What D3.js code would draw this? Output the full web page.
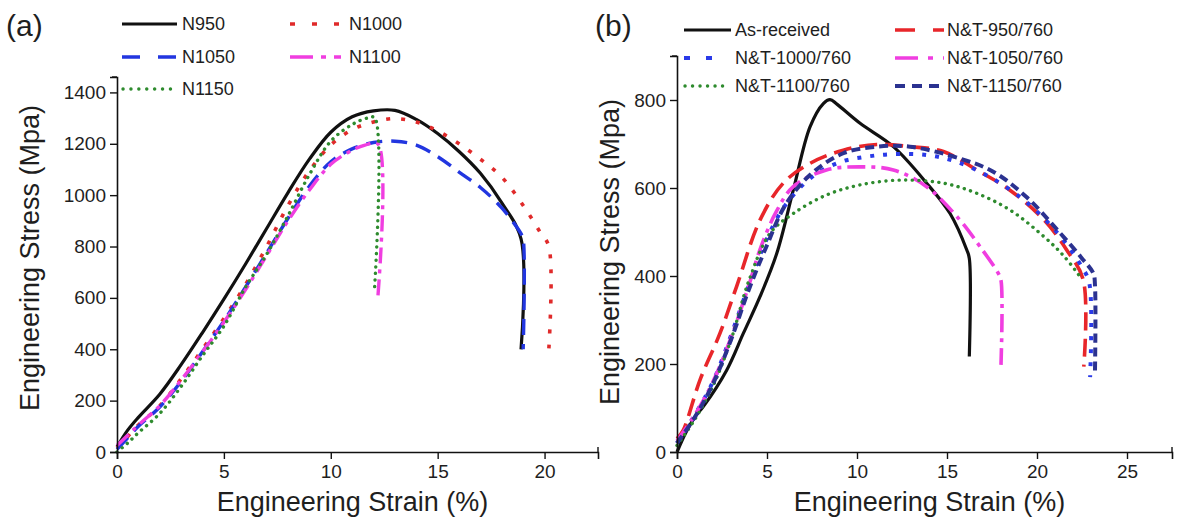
<!DOCTYPE html>
<html>
<head>
<meta charset="utf-8">
<script src="https://cdn.jsdelivr.net/npm/d3@7/dist/d3.min.js"></script>
<style>
  html, body { margin: 0; padding: 0; background: #ffffff; }
  svg { display: block; }
  text { font-family: "Liberation Sans", Arial, sans-serif; fill: #1e1e1e; }
</style>
</head>
<body>
<svg id="chart" width="1181" height="520"></svg>
<script>
// ---------------- Data ----------------
// Panel (a): strain (%) , stress (MPa)
const panelALabel = "(a)";
const strainTicksA = [0, 5, 10, 15, 20];
const stressTicksA = [0, 200, 400, 600, 800, 1000, 1200, 1400];
const namesA = ["N950", "N1000", "N1050", "N1100", "N1150"];

const n950 = [[0,20],[0.5,85],[1,135],[2,225],[3,340],[4,465],[5,595],[6,730],[7,870],[8,1010],[9,1140],[10,1245],[11,1305],[12,1328],[13,1330],[14,1295],[15,1240],[16,1170],[17,1085],[18,970],[18.9,830],[18.9,400]];
const n1000 = [[0,15],[0.5,60],[1,105],[2,180],[3,285],[4,400],[5,520],[6,650],[7,800],[8,960],[9,1095],[10,1195],[11,1255],[12,1285],[13,1298],[14,1285],[15,1250],[16,1200],[17,1140],[18,1070],[19,960],[19.8,855],[20.2,800],[20.2,400]];
const n1050 = [[0,10],[0.5,55],[1,100],[2,175],[3,275],[4,390],[5,510],[6,640],[7,775],[8,910],[9,1035],[10,1130],[11,1180],[12,1205],[13,1210],[14,1195],[15,1150],[16,1090],[17,1030],[18,950],[18.9,850],[19.0,830],[19.0,400]];
const n1100 = [[0,25],[0.5,65],[1,105],[2,180],[3,280],[4,390],[5,505],[6,630],[7,765],[8,900],[9,1020],[10,1120],[11,1175],[11.6,1195],[12.2,1200],[12.2,600]];
const n1150 = [[0,0],[0.5,35],[1,75],[2,150],[3,255],[4,375],[5,490],[6,640],[7,770],[8,920],[9,1080],[10,1210],[11,1275],[11.7,1300],[12.05,1302],[12.05,640]];

// Panel (b)
const panelBLabel = "(b)";
const strainTicksB = [0, 5, 10, 15, 20, 25];
const stressTicksB = [0, 200, 400, 600, 800];
const namesB = ["As-received", "N&T-950/760", "N&T-1000/760", "N&T-1050/760", "N&T-1100/760", "N&T-1150/760"];

const asReceived = [[0,0],[0.5,45],[1,80],[1.46,103],[2.76,186],[3.69,270],[4.61,353],[5.54,451],[6.46,595],[7.39,739],[8.13,792],[8.5,801],[8.9,790],[10.17,747],[12.02,694],[13.87,611],[15.17,542],[16.1,459],[16.24,440],[16.24,217]];
const nt950 = [[0,30],[0.35,50],[1.28,164],[2.39,270],[3.31,376],[4.61,527],[5.9,611],[7.39,656],[9.24,686],[11.1,699],[12.94,694],[14.8,683],[16.65,641],[18.5,595],[20.4,527],[21.65,459],[22.57,391],[22.6,194]];
const nt1000 = [[0,20],[1,85],[2,160],[3,265],[4,380],[5,485],[6,560],[7.5,625],[9,658],[10.5,671],[12,677],[13.87,675],[15.5,660],[17.5,622],[19.5,565],[21.3,490],[22.5,420],[22.9,385],[22.95,170]];
const nt1050 = [[0,25],[1,85],[2,160],[3,260],[4,380],[4.61,460],[5.5,545],[6.46,603],[8.3,641],[10.17,648],[12.02,641],[13.87,603],[15.72,527],[16.83,467],[17.85,406],[18.0,390],[18.0,198]];
const nt1100 = [[0,15],[1,75],[2,150],[3,255],[4,390],[5.17,497],[6.46,542],[8.3,584],[10.17,607],[12.4,618],[14.8,611],[16.65,588],[18.5,550],[20.4,489],[21.5,445],[22.4,398]];
const nt1150 = [[0,20],[1,80],[2,155],[3,255],[4,370],[5,470],[6,560],[7.4,630],[9.24,679],[11.1,694],[12.94,694],[15.72,667],[17.57,637],[19.4,580],[21.3,497],[22.5,440],[23.13,406],[23.22,380],[23.22,179]];

const xTitle = "Engineering Strain (%)";
const yTitle = "Engineering Stress (Mpa)";

// ---------------- Styles ----------------
const stylesA = [
  { data: n950,  color: "#111111", dash: null,       legDash: null,            cap: "butt",  w: 3.2 },
  { data: n1000, color: "#e02a2a", dash: "4,11",     legDash: "5,17",          cap: "butt",  w: 3.6 },
  { data: n1050, color: "#2236e0", dash: "16,9",     legDash: "18,18",         cap: "butt",  w: 3.4 },
  { data: n1100, color: "#f03ee0", dash: "16,6,4,6", legDash: "23,8,5,8",      cap: "butt",  w: 3.4 },
  { data: n1150, color: "#2e8b2e", dash: "0.1,6.5",  legDash: "0.1,7.8",       cap: "round", w: 3.4 }
];
const stylesB = [
  { data: asReceived, color: "#111111", dash: null,   legDash: null,          cap: "butt",  w: 3.2 },
  { data: nt950,  color: "#e8262a", dash: "18,8",     legDash: "20,18",       cap: "butt",  w: 3.6 },
  { data: nt1000, color: "#2a3ae8", dash: "4,9",      legDash: "6,16",        cap: "butt",  w: 4.0 },
  { data: nt1050, color: "#f03ee0", dash: "18,6,4,6", legDash: "23,10,5,10",  cap: "butt",  w: 3.6 },
  { data: nt1100, color: "#2e8b2e", dash: "0.1,6.5",  legDash: "0.1,7.4",     cap: "round", w: 3.4 },
  { data: nt1150, color: "#2b3290", dash: "9,5",      legDash: "10,7",        cap: "butt",  w: 4.0 }
];

const svg = d3.select("#chart");

function drawPanel(cfg) {
  const x = d3.scaleLinear().domain(cfg.xDomain).range([cfg.left, cfg.right]);
  const y = d3.scaleLinear().domain(cfg.yDomain).range([cfg.bottom, cfg.top]);
  const g = svg.append("g");

  // curves
  const line = d3.line().x(d => x(d[0])).y(d => y(d[1])).curve(d3.curveCatmullRom.alpha(0.5));
  cfg.styles.forEach(s => {
    g.append("path").attr("d", line(s.data))
      .attr("fill", "none").attr("stroke", s.color).attr("stroke-width", s.w)
      .attr("stroke-dasharray", s.dash).attr("stroke-linecap", s.cap)
      .attr("stroke-linejoin", "round");
  });

  // x axis
  const xMinor = d3.range(cfg.xDomain[0], cfg.xDomain[1] + 0.001, cfg.xMinorStep).filter(v => !cfg.xTicks.includes(v));
  const xAxisG = g.append("g").attr("transform", `translate(0,${cfg.bottom})`);
  xAxisG.call(d3.axisBottom(x).tickValues(xMinor).tickSize(4).tickFormat(""));
  xAxisG.call(d3.axisBottom(x).tickValues(cfg.xTicks).tickSize(7).tickPadding(6).tickFormat(d3.format("d")));
  xAxisG.selectAll(".domain").attr("stroke", "#111").attr("stroke-width", 1.6);
  xAxisG.selectAll(".tick line").attr("stroke", "#111").attr("stroke-width", 1.4);
  xAxisG.selectAll(".tick text").attr("font-size", 19).attr("fill", "#1e1e1e")
    .style("font-family", '"Liberation Sans", Arial, sans-serif');

  // y axis
  const yMinor = d3.range(cfg.yDomain[0], cfg.yDomain[1] + 0.001, cfg.yMinorStep).filter(v => !cfg.yTicks.includes(v));
  const yAxisG = g.append("g").attr("transform", `translate(${cfg.left},0)`);
  yAxisG.call(d3.axisLeft(y).tickValues(yMinor).tickSize(4).tickFormat(""));
  yAxisG.call(d3.axisLeft(y).tickValues(cfg.yTicks).tickSize(7).tickPadding(4).tickFormat(d3.format("d")));
  yAxisG.selectAll(".domain").attr("stroke", "#111").attr("stroke-width", 1.6);
  yAxisG.selectAll(".tick line").attr("stroke", "#111").attr("stroke-width", 1.4);
  yAxisG.selectAll(".tick text").attr("font-size", 19).attr("fill", "#1e1e1e")
    .style("font-family", '"Liberation Sans", Arial, sans-serif');

  // axis end caps
  g.append("line").attr("x1", cfg.left - 5).attr("x2", cfg.left).attr("y1", cfg.top).attr("y2", cfg.top)
    .attr("stroke", "#111").attr("stroke-width", 1.4);
  g.append("line").attr("x1", cfg.right).attr("x2", cfg.right).attr("y1", cfg.bottom).attr("y2", cfg.bottom - 5)
    .attr("stroke", "#111").attr("stroke-width", 1.4);

  // titles
  g.append("text").attr("x", (cfg.left + cfg.right) / 2 + cfg.xTitleShift).attr("y", 511)
    .attr("text-anchor", "middle").attr("font-size", 27).text(xTitle);
  g.append("text").attr("transform", `translate(${cfg.yTitleX},${cfg.yTitleY}) rotate(-90)`)
    .attr("text-anchor", "middle").attr("font-size", 27).text(yTitle);
  g.append("text").attr("x", cfg.labelX).attr("y", 36).attr("font-size", 30).text(cfg.label);

  // legend
  cfg.legend.forEach((item, i) => {
    const s = cfg.styles[i];
    const lg = g.append("g");
    lg.append("line").attr("x1", item.x1).attr("x2", item.x2).attr("y1", item.y).attr("y2", item.y)
      .attr("stroke", s.color).attr("stroke-width", s.w).attr("stroke-dasharray", s.legDash)
      .attr("stroke-linecap", s.cap);
    lg.append("text").attr("x", item.tx).attr("y", item.y).attr("dy", "0.36em")
      .attr("font-size", 18).text(cfg.names[i]);
  });
}

drawPanel({
  xDomain: [0, 22.5], yDomain: [0, 1460],
  left: 117, right: 598, top: 77, bottom: 452,
  xTicks: strainTicksA, yTicks: stressTicksA, xMinorStep: 2.5, yMinorStep: 100,
  styles: stylesA, names: namesA, label: panelALabel, labelX: 6,
  xTitleShift: -5, yTitleX: 39, yTitleY: 258,
  legend: [
    { x1: 122, x2: 177, tx: 182, y: 24 },   // N950
    { x1: 290, x2: 341, tx: 349, y: 24 },   // N1000
    { x1: 122, x2: 177, tx: 182, y: 57 },   // N1050
    { x1: 290, x2: 341, tx: 349, y: 57 },   // N1100
    { x1: 123, x2: 177, tx: 182, y: 89 }    // N1150
  ]
});

drawPanel({
  xDomain: [0, 27.5], yDomain: [0, 900],
  left: 677, right: 1172, top: 56, bottom: 452,
  xTicks: strainTicksB, yTicks: stressTicksB, xMinorStep: 2.5, yMinorStep: 100,
  styles: stylesB, names: namesB, label: panelBLabel, labelX: 595,
  xTitleShift: 5, yTitleX: 619, yTitleY: 252,
  legend: [
    { x1: 684, x2: 731, tx: 735, y: 30 },   // As-received
    { x1: 895, x2: 944, tx: 947, y: 30 },   // 950
    { x1: 684, x2: 712, tx: 735, y: 58 },   // 1000
    { x1: 895, x2: 944, tx: 947, y: 58 },   // 1050
    { x1: 685, x2: 725, tx: 735, y: 86 },   // 1100
    { x1: 895, x2: 944, tx: 947, y: 86 }    // 1150
  ]
});
</script>
</body>
</html>
